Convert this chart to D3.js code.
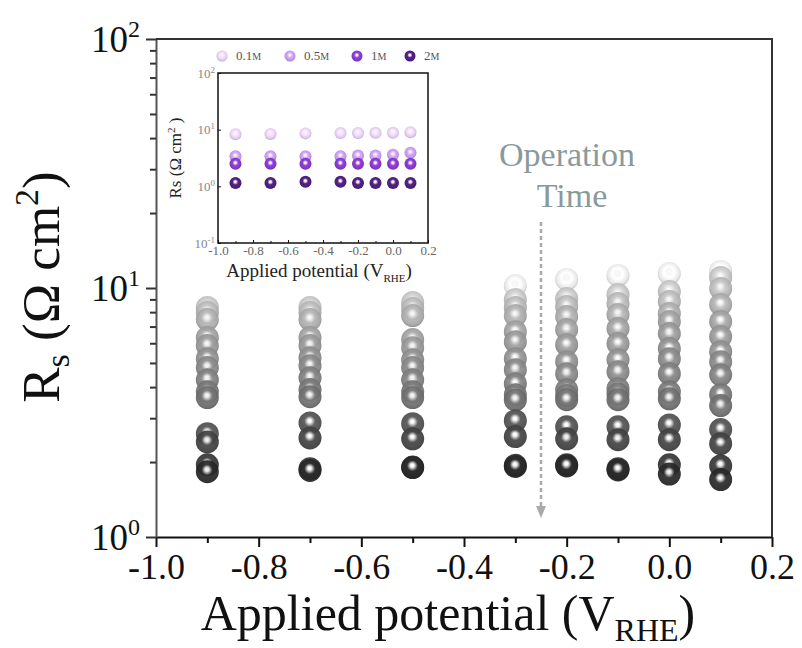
<!DOCTYPE html>
<html>
<head>
<meta charset="utf-8">
<script src="https://cdn.jsdelivr.net/npm/d3@7"></script>
<style>
  body { margin: 0; background: #fff; }
  svg { display: block; }
  text { font-family: "Liberation Serif", "Times New Roman", serif; }
</style>
</head>
<body>
<div id="chart"></div>
<script>
// ---- data ----
const potentials = [-0.9, -0.7, -0.5, -0.3, -0.2, -0.1, 0.0, 0.1];
const xTicks = [-1.0, -0.8, -0.6, -0.4, -0.2, 0.0, 0.2];
const xMinorTicks = [-0.9, -0.7, -0.5, -0.3, -0.1, 0.1];
const yTicks = [1, 10, 100];
const yMinorTicks = [2, 3, 4, 5, 6, 7, 8, 9, 20, 30, 40, 50, 60, 70, 80, 90];

// Rs (ohm cm2) at each potential, in order of operation time (null = no point)
const rsM09 = [null, 8.35, 7.97, 7.47, 6.32, 5.87, 5.20, 4.79, 4.28, 3.83, 3.63, 2.60, 2.41, 1.95, 1.83];
const rsM07 = [null, 8.35, 7.97, 7.47, 6.32, 5.87, 5.25, 4.87, 4.36, 3.91, 3.66, 2.87, 2.50, 1.88, 1.85];
const rsM05 = [null, 8.74, 8.27, 7.75, 6.21, 5.76, 5.15, 4.79, 4.28, 3.83, 3.63, 2.85, 2.48, 1.91, 1.90];
const rsM03 = [10.23, 8.99, 8.35, 7.75, 6.68, 6.09, 5.20, 4.70, 4.13, 3.73, 3.55, 2.93, 2.53, 1.94, 1.92];
const rsM02 = [10.82, 9.07, 8.43, 7.68, 6.81, 5.92, 5.06, 4.53, 3.90, 3.70, 3.56, 2.77, 2.48, 1.95, 1.93];
const rsM01 = [11.23, 9.41, 8.66, 7.82, 6.87, 5.98, 5.15, 4.61, 3.94, 3.75, 3.56, 2.77, 2.46, 1.88, 1.86];
const rsP00 = [11.43, 9.68, 8.83, 7.90, 7.33, 6.56, 5.71, 5.20, 4.53, 3.83, 3.59, 2.82, 2.46, 1.95, 1.79];
const rsP01 = [11.65, 11.02, 9.95, 8.58, 7.33, 6.38, 5.55, 5.06, 4.48, 3.73, 3.37, 2.70, 2.37, 1.93, 1.70];
const rsColumns = [rsM09, rsM07, rsM05, rsM03, rsM02, rsM01, rsP00, rsP01];

// inset: concentration series
const insetSeries = ["0.1", "0.5", "1", "2"];
const inset01 = [8.3, 8.4, 8.6, 8.7, 8.7, 8.8, 8.8, 9.0];
const inset05 = [3.4, 3.4, 3.4, 3.4, 3.5, 3.5, 3.6, 3.9];
const inset1 = [2.5, 2.5, 2.5, 2.5, 2.5, 2.5, 2.5, 2.5];
const inset2 = [1.15, 1.15, 1.2, 1.2, 1.15, 1.15, 1.15, 1.15];
const insetValues = [inset01, inset05, inset1, inset2];
const insetYTicks = [0.1, 1, 10, 100];

// ---- layout ----
const W = 802, H = 648;
const plot = { left: 156, right: 772, top: 39, bottom: 537 };
const ins = { left: 218, right: 428, top: 73, bottom: 243 };

const svg = d3.select("#chart").append("svg")
  .attr("width", W).attr("height", H);

const x = d3.scaleLinear().domain([-1.0, 0.2]).range([plot.left, plot.right]);
const y = d3.scaleLog().domain([1, 100]).range([plot.bottom, plot.top]);

const nTimes = rsM09.length;
const gray = d3.scaleLinear()
  .domain([0, 1, 4, 10, 11, 14])
  .range(["#e4e4e4", "#bcbcbc", "#989898", "#6a6a6a", "#4c4c4c", "#262626"]);
const insetColor = d3.scaleOrdinal().domain(insetSeries)
  .range(["#dcc6f0", "#bf93e6", "#8237c4", "#4c1d78"]);

// sphere-like gradients
const defs = svg.append("defs");
function sphereGradient(id, base) {
  const c = d3.color(base);
  const g = defs.append("radialGradient").attr("id", id)
    .attr("cx", "50%").attr("cy", "46%").attr("r", "56%")
    .attr("fx", "48%").attr("fy", "40%");
  g.append("stop").attr("offset", "0%").attr("stop-color", "#ffffff");
  g.append("stop").attr("offset", "14%").attr("stop-color", "#f4f4f4");
  g.append("stop").attr("offset", "42%").attr("stop-color", c.brighter(0.35).formatHex());
  g.append("stop").attr("offset", "80%").attr("stop-color", c.formatHex());
  g.append("stop").attr("offset", "100%").attr("stop-color", c.darker(0.6).formatHex());
}
d3.range(nTimes).forEach(t => sphereGradient("gt" + t, gray(t)));
insetSeries.forEach((s, i) => sphereGradient("gi" + i, insetColor(s)));

// ---- main axes ----
const fmt = d => d.toFixed(1);

svg.append("g")
  .attr("transform", `translate(0,${plot.bottom})`)
  .call(d3.axisBottom(x).tickValues(xTicks).tickFormat(fmt).tickSize(10).tickSizeOuter(0))
  .call(g => g.select(".domain").attr("stroke", "#111").attr("stroke-width", 2))
  .call(g => g.selectAll(".tick line").attr("stroke", "#111").attr("stroke-width", 2))
  .call(g => g.selectAll(".tick text")
    .attr("y", 16).attr("font-size", 36).attr("fill", "#111")
    .attr("font-family", "Liberation Serif"));

svg.append("g")
  .attr("transform", `translate(0,${plot.bottom})`)
  .call(d3.axisBottom(x).tickValues(xMinorTicks).tickFormat("").tickSize(6).tickSizeOuter(0))
  .call(g => g.select(".domain").remove())
  .call(g => g.selectAll(".tick line").attr("stroke", "#111").attr("stroke-width", 2));

const yAxis = svg.append("g")
  .attr("transform", `translate(${plot.left},0)`)
  .call(d3.axisLeft(y).tickValues(yTicks).tickFormat("").tickSize(10).tickSizeOuter(0))
  .call(g => g.select(".domain").attr("stroke", "#555").attr("stroke-width", 2))
  .call(g => g.selectAll(".tick line").attr("stroke", "#333").attr("stroke-width", 2));

svg.append("g")
  .attr("transform", `translate(${plot.left},0)`)
  .call(d3.axisLeft(y).tickValues(yMinorTicks).tickFormat("").tickSize(6).tickSizeOuter(0))
  .call(g => g.select(".domain").remove())
  .call(g => g.selectAll(".tick line").attr("stroke", "#333").attr("stroke-width", 2));

// log labels 10^n
yAxis.selectAll(".tick").each(function (d) {
  const t = d3.select(this).append("text")
    .attr("x", -16).attr("y", 12)
    .attr("text-anchor", "end")
    .attr("font-size", 37).attr("fill", "#111")
    .attr("font-family", "Liberation Serif");
  t.append("tspan").text("10");
  t.append("tspan").attr("dy", -15).attr("font-size", 24).text(Math.round(Math.log10(d)));
});

// frame top/right
svg.append("path")
  .attr("d", `M${plot.left},${plot.top}H${plot.right}V${plot.bottom}`)
  .attr("fill", "none").attr("stroke", "#333").attr("stroke-width", 2);

// axis titles
const xt = svg.append("text")
  .attr("x", (plot.left + plot.right) / 2 - 16).attr("y", 630)
  .attr("text-anchor", "middle").attr("font-size", 50).attr("fill", "#111");
xt.append("tspan").text("Applied potential (V");
xt.append("tspan").attr("dy", 11).attr("font-size", 32).text("RHE");
xt.append("tspan").attr("dy", -11).text(")");

const yt = svg.append("text")
  .attr("transform", "translate(59,287) rotate(-90)")
  .attr("text-anchor", "middle").attr("font-size", 53).attr("fill", "#111");
yt.append("tspan").text("R");
yt.append("tspan").attr("dy", 10).attr("font-size", 34).text("s");
yt.append("tspan").attr("dy", -10).text(" (\u03A9 cm");
yt.append("tspan").attr("dy", -21).attr("font-size", 34).text("2");
yt.append("tspan").attr("dy", 21).text(")");

// ---- main spheres ----
const points = [];
rsColumns.forEach((col, p) => col.forEach((v, t) => {
  if (v != null) points.push({ p: potentials[p], t, v });
}));
points.sort((a, b) => a.t - b.t);

svg.append("g").selectAll("circle")
  .data(points)
  .join("circle")
  .attr("cx", d => x(d.p))
  .attr("cy", d => y(d.v))
  .attr("r", 11.5)
  .attr("fill", d => `url(#gt${d.t})`)
  .attr("opacity", 0.93);

// ---- operation time annotation ----
svg.append("text")
  .attr("x", 567).attr("y", 166)
  .attr("text-anchor", "middle").attr("font-size", 34).attr("fill", "#8a9a9a")
  .text("Operation");
svg.append("text")
  .attr("x", 572).attr("y", 207)
  .attr("text-anchor", "middle").attr("font-size", 34).attr("fill", "#8a9a9a")
  .text("Time");
svg.append("line")
  .attr("x1", 541).attr("x2", 541).attr("y1", 222).attr("y2", 508)
  .attr("stroke", "#aaaaaa").attr("stroke-width", 2.5).attr("stroke-dasharray", "4,3");
svg.append("path")
  .attr("d", "M536,506L546,506L541,518Z")
  .attr("fill", "#aaaaaa");

// ---- inset ----
const xi = d3.scaleLinear().domain([-1.0, 0.2]).range([ins.left, ins.right]);
const yi = d3.scaleLog().domain([0.1, 100]).range([ins.bottom, ins.top]);

svg.append("rect")
  .attr("x", ins.left).attr("y", ins.top)
  .attr("width", ins.right - ins.left).attr("height", ins.bottom - ins.top)
  .attr("fill", "#fff").attr("stroke", "#111").attr("stroke-width", 1.5);

svg.append("g")
  .attr("transform", `translate(0,${ins.bottom})`)
  .call(d3.axisBottom(xi).tickValues(xTicks).tickFormat(fmt).tickSize(-3).tickSizeOuter(0))
  .call(g => g.select(".domain").remove())
  .call(g => g.selectAll(".tick line").attr("stroke", "#111"))
  .call(g => g.selectAll(".tick text").attr("y", 3).attr("font-size", 13).attr("fill", "#666")
    .attr("font-family", "Liberation Serif"));

svg.append("g")
  .attr("transform", `translate(0,${ins.bottom})`)
  .call(d3.axisBottom(xi).tickValues(xMinorTicks).tickFormat("").tickSize(-2).tickSizeOuter(0))
  .call(g => g.select(".domain").remove())
  .call(g => g.selectAll(".tick line").attr("stroke", "#111"));

const yiAxis = svg.append("g")
  .attr("transform", `translate(${ins.left},0)`)
  .call(d3.axisLeft(yi).tickValues(insetYTicks).tickFormat("").tickSize(-3).tickSizeOuter(0))
  .call(g => g.select(".domain").remove())
  .call(g => g.selectAll(".tick line").attr("stroke", "#111"));
yiAxis.selectAll(".tick").each(function (d) {
  const t = d3.select(this).append("text")
    .attr("x", -3).attr("y", 4)
    .attr("text-anchor", "end").attr("font-size", 13).attr("fill", "#888")
    .attr("font-family", "Liberation Serif");
  t.append("tspan").text("10");
  t.append("tspan").attr("dy", -5).attr("font-size", 9).text(Math.round(Math.log10(d)));
});

const xit = svg.append("text")
  .attr("x", (ins.left + ins.right) / 2 - 4).attr("y", 277)
  .attr("text-anchor", "middle").attr("font-size", 19).attr("fill", "#222");
xit.append("tspan").text("Applied potential (V");
xit.append("tspan").attr("dy", 5).attr("font-size", 11).text("RHE");
xit.append("tspan").attr("dy", -5).text(")");

const yit = svg.append("text")
  .attr("transform", `translate(181,${(ins.top + ins.bottom) / 2}) rotate(-90)`)
  .attr("text-anchor", "middle").attr("font-size", 17).attr("fill", "#222");
yit.append("tspan").text("Rs (\u03A9 cm");
yit.append("tspan").attr("dy", -6).attr("font-size", 11).text("2");
yit.append("tspan").attr("dy", 6).text(" )");

insetValues.forEach((vals, i) => {
  svg.append("g").selectAll("circle")
    .data(vals.map((v, k) => ({ p: potentials[k], v })))
    .join("circle")
    .attr("cx", d => xi(d.p))
    .attr("cy", d => yi(d.v))
    .attr("r", 6)
    .attr("fill", `url(#gi${i})`);
});

// inset legend
const legendX = [222, 290, 357, 410];
insetSeries.forEach((s, i) => {
  svg.append("circle")
    .attr("cx", legendX[i]).attr("cy", 56).attr("r", 5.5)
    .attr("fill", `url(#gi${i})`);
  const t = svg.append("text")
    .attr("x", legendX[i] + 14).attr("y", 60)
    .attr("font-size", 13).attr("fill", "#555");
  t.append("tspan").text(s);
  t.append("tspan").attr("font-size", 10).text("M");
});
</script>
</body>
</html>
